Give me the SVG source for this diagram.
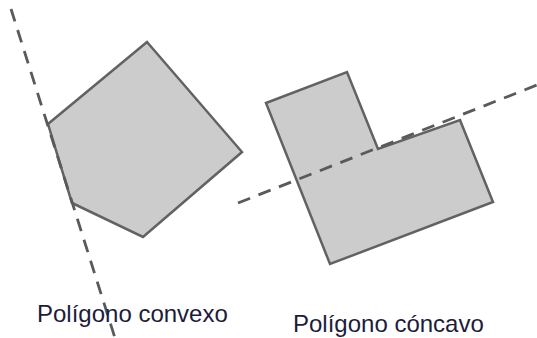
<svg xmlns="http://www.w3.org/2000/svg" width="537" height="338" viewBox="0 0 537 338">
<style>
.shape{fill:#cccccc;stroke:#626262;stroke-width:2.5;stroke-linejoin:miter}
.dash{fill:none;stroke:#5a5a5a;stroke-width:2.8;stroke-dasharray:13 9}
.lbl{font-family:"Liberation Sans",Arial,sans-serif;font-size:24px;fill:#1c1c3a}
</style>
<rect width="537" height="338" fill="#ffffff"/>
<g id="convex">
<polygon class="shape" points="147,42 242,152 143,237 72,203 48,124"/>
</g>
<g id="concave">
<polygon class="shape" points="266,103 347,72 378,149 460,120 493,202 330,264"/>
</g>
<g id="connectors">
<line class="dash" x1="11" y1="9" x2="115" y2="338"/>
<line class="dash" x1="238" y1="203" x2="537" y2="85"/>
</g>
<g id="label-convex">
<text class="lbl" x="37" y="322">Polígono convexo</text>
</g>
<g id="label-concave">
<text class="lbl" x="293" y="332">Polígono cóncavo</text>
</g>
</svg>
